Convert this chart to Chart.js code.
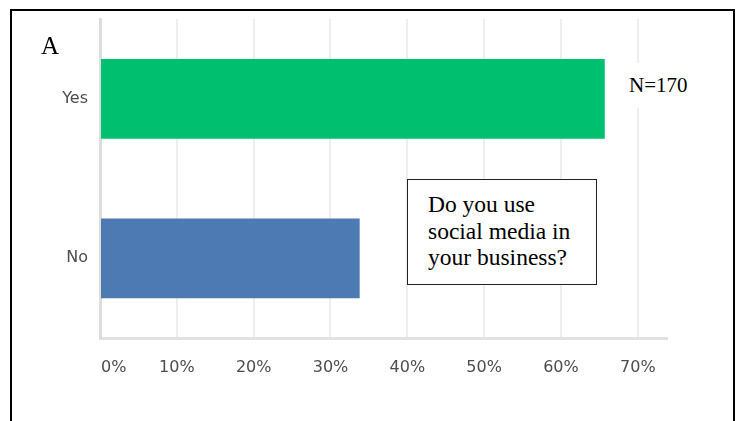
<!DOCTYPE html>
<html>
<head>
<meta charset="utf-8">
<script src="https://cdn.jsdelivr.net/npm/chart.js@4/dist/chart.umd.min.js"></script>
<style>
  html, body { margin: 0; padding: 0; background: #fff; overflow: hidden; }
  #wrap { position: relative; width: 741px; height: 421px; }
  #frame {
    position: absolute; left: 10px; top: 9px; width: 721px; height: 480px;
    border: 2px solid #000; border-bottom: none;
  }
  .serif { position: absolute; font-family: "Liberation Serif", "Times New Roman", serif; color: #000; white-space: nowrap; }
  #panel { left: 41px; top: 33px; font-size: 25px; line-height: 25px; }
  #count { left: 615px; top: 63px; width: 105px; height: 45px; padding-left: 14px; box-sizing: border-box;
           background: #fff; font-size: 21px; line-height: 45px; }
  #question { left: 407px; top: 179px; width: 190px; height: 106px; box-sizing: border-box;
              border: 1px solid #222; background: #fff; padding: 11px 0 0 20px;
              font-size: 23.5px; line-height: 26.5px; }
</style>
</head>
<body>
<div id="wrap">
  <canvas id="chart" width="741" height="421"></canvas>
  <div id="frame"></div>
  <div id="panel" class="serif">A</div>
  <div id="count" class="serif">N=170</div>
  <div id="question" class="serif">Do you use<br>social media in<br>your business?</div>
</div>
<script>
  const categories = ["Yes", "No"];
  const shares = [65.7, 33.8];
  const barColors = ["#00bf6f", "#4e7ab3"];
  const xTicks = [0, 10, 20, 30, 40, 50, 60, 70];

  // tick labels drawn by hand so the first one can sit right of its grid line
  const axisText = {
    id: "axisText",
    afterDraw(chart) {
      const { ctx, chartArea, scales: { x, y } } = chart;
      ctx.save();
      ctx.font = '16px "DejaVu Sans"';
      ctx.fillStyle = "#4d4d4d";
      ctx.textBaseline = "middle";
      xTicks.forEach((v, i) => {
        const px = x.getPixelForValue(v);
        ctx.textAlign = i === 0 ? "left" : "center";
        ctx.fillText(v + "%", i === 0 ? px + 1 : px, chartArea.bottom + 30);
      });
      ctx.textAlign = "right";
      categories.forEach((c, i) => {
        ctx.fillText(c, chartArea.left - 12, y.getPixelForValue(i));
      });
      ctx.restore();
    }
  };

  new Chart(document.getElementById("chart"), {
    type: "bar",
    data: {
      labels: categories,
      datasets: [
        {
          data: shares,
          backgroundColor: barColors,
          borderWidth: 0,
          barPercentage: 0.5,
          categoryPercentage: 1
        }
      ]
    },
    options: {
      indexAxis: "y",
      responsive: false,
      animation: false,
      events: [],
      layout: { padding: { left: 100, top: 19, right: 74, bottom: 83 } },
      plugins: { legend: { display: false }, tooltip: { enabled: false } },
      scales: {
        x: {
          min: 0,
          max: 73.8,
          afterBuildTicks: (scale) => {
            scale.ticks = xTicks.map((v) => ({ value: v }));
          },
          ticks: { display: false },
          grid: { color: "#eeeeee", lineWidth: 2, drawTicks: false },
          border: { color: "#e2e2e2", width: 3 }
        },
        y: {
          ticks: { display: false },
          grid: { display: false, drawTicks: false },
          border: { color: "#dddddd", width: 3 }
        }
      }
    },
    plugins: [axisText]
  });
</script>
</body>
</html>
